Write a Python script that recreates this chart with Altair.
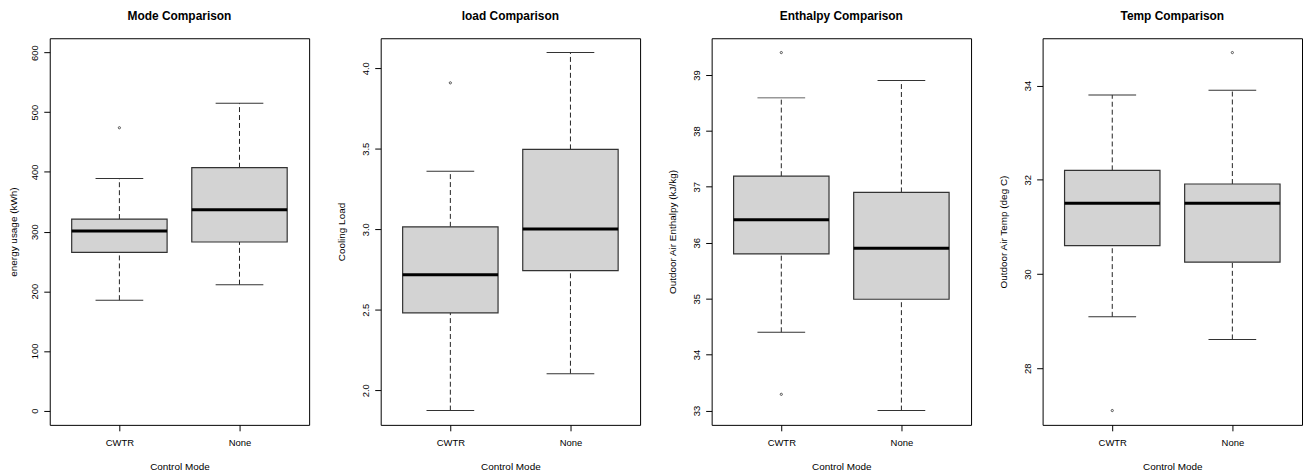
import altair as alt
import pandas as pd

# ---------------- data ----------------
modes = ["CWTR", "None"]

panel_titles = ["Mode Comparison", "load Comparison", "Enthalpy Comparison", "Temp Comparison"]
y_titles = ["energy usage (kWh)", "Cooling Load", "Outdoor Air Enthalpy (kJ/kg)", "Outdoor Air Temp (deg C)"]
x_title = "Control Mode"

# five-number summaries per panel, ordered as [CWTR, None]
whisker_low = [[185, 211], [1.874, 2.103], [34.40, 33.00], [29.09, 28.61]]
q1 = [[265, 282.5], [2.481, 2.743], [35.80, 34.99], [30.60, 30.25]]
median = [[301, 336.5], [2.718, 3.001], [36.41, 35.90], [31.50, 31.50]]
q3 = [[321, 407], [3.015, 3.496], [37.19, 36.90], [32.20, 31.91]]
whisker_high = [[389, 515], [3.360, 4.097], [38.59, 38.90], [33.80, 33.90]]

outlier_mode = [["CWTR"], ["CWTR"], ["CWTR", "CWTR"], ["CWTR", "None"]]
outlier_value = [[474], [3.909], [39.40, 33.29], [27.10, 34.70]]

# y range drawn (before the 4% extension used by R)
y_ranges = [[0, 600], [1.874, 4.097], [33.0, 39.4], [27.1, 34.7]]
y_ticks = [[0, 100, 200, 300, 400, 500, 600],
           [2.0, 2.5, 3.0, 3.5, 4.0],
           [33, 34, 35, 36, 37, 38, 39],
           [28, 30, 32, 34]]
y_formats = ["d", ".1f", "d", "d"]

FONT = "Liberation Sans"
W, H = 261, 389
Y_TITLE_X = [-33, -36, -36, -36]


def panel(i):
    df = pd.DataFrame({
        "mode": modes,
        "lo": whisker_low[i],
        "q1": q1[i],
        "med": median[i],
        "q3": q3[i],
        "hi": whisker_high[i],
    })
    od = pd.DataFrame({"mode": outlier_mode[i], "value": outlier_value[i]})

    lo_, hi_ = y_ranges[i]
    ext = 0.04 * (hi_ - lo_)
    yscale = alt.Scale(domain=[lo_ - ext, hi_ + ext], nice=False, zero=False)
    yaxis = alt.Axis(
        title=y_titles[i], values=y_ticks[i], format=y_formats[i],
        labelAngle=-90, labelAlign="center", labelBaseline="alphabetic",
        labelPadding=6, tickSize=6, grid=False, domain=False,
        titleAngle=-90, titleBaseline="alphabetic", titleAlign="center",
        titleX=Y_TITLE_X[i], titleY=H / 2, titleFontWeight="normal", titleFontSize=10,
        labelFontSize=9.5, labelFlush=False, labelOverlap=False,
    )
    xaxis = alt.Axis(
        title=x_title, labelAngle=0, tickSize=6, labelPadding=7,
        domain=False, grid=False, labelFontSize=9.5,
        titleFontSize=10, titleFontWeight="normal",
        titleBaseline="alphabetic", titleY=45, titleX=W / 2,
    )
    xenc = alt.X("mode:N", sort=modes, scale=alt.Scale(type="point", padding=0.58), axis=xaxis)

    def y(field):
        return alt.Y(field, type="quantitative", scale=yscale, axis=yaxis)

    base = alt.Chart(df)
    whisk_up = base.mark_rule(strokeDash=[5, 3], color="#222", strokeWidth=1).encode(
        x=xenc, y=y("q3"), y2="hi")
    whisk_dn = base.mark_rule(strokeDash=[5, 3], color="#222", strokeWidth=1).encode(
        x=xenc, y=y("lo"), y2="q1")
    box = base.mark_bar(size=96, fill="#D3D3D3", stroke="#333", strokeWidth=1.2).encode(
        x=xenc, y=y("q1"), y2="q3")
    med = base.mark_tick(size=96, thickness=3, color="black", opacity=1).encode(
        x=xenc, y=y("med"))
    cap_hi = base.mark_tick(size=48, thickness=1, color="#333", opacity=1).encode(
        x=xenc, y=y("hi"))
    cap_lo = base.mark_tick(size=48, thickness=1, color="#333", opacity=1).encode(
        x=xenc, y=y("lo"))
    outl = alt.Chart(od).mark_point(shape="circle", filled=False, size=5,
                                    strokeWidth=0.9, color="#444", opacity=1).encode(
        x=xenc, y=y("value"))

    return alt.layer(whisk_up, whisk_dn, box, med, cap_hi, cap_lo, outl).properties(
        width=W, height=H,
        title=alt.TitleParams(panel_titles[i], anchor="middle", baseline="alphabetic",
                              offset=6.5, fontSize=12, fontWeight="bold", font=FONT,
                              color="black"),
    )


chart = alt.hconcat(*[panel(i) for i in range(4)], spacing=72, bounds="flush").resolve_scale(
    y="independent"
).properties(
    padding=0, background="white"
).configure_view(
    stroke="black", strokeWidth=1
).configure_axis(
    labelFont=FONT, titleFont=FONT, labelColor="black", titleColor="black",
    tickColor="black", tickWidth=1
)

chart.save("out.html", embed_options={"renderer": "svg", "actions": False})
